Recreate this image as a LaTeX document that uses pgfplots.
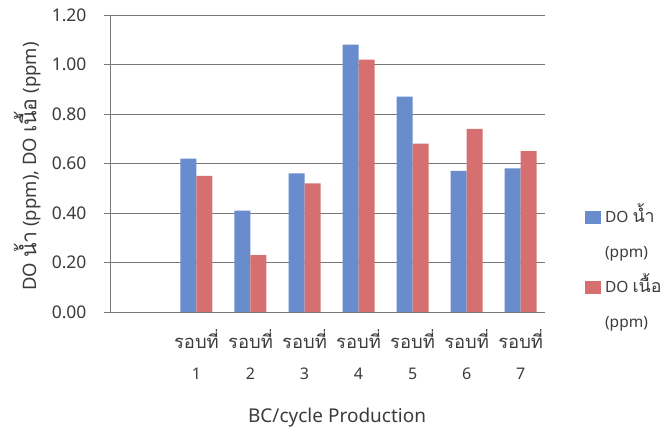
\documentclass[border=0pt]{standalone}
\usepackage{fontspec}
\usepackage{pgfplots}
\pgfplotsset{compat=1.18}
\setmainfont{Noto Sans}
\newfontfamily\thai[Script=Thai,Scale=1.15]{Loma}

\definecolor{waterblue}{RGB}{104,140,204}
\definecolor{fleshred}{RGB}{214,112,112}
\definecolor{gridgray}{RGB}{120,120,120}
\definecolor{textgray}{RGB}{60,60,60}

\begin{document}
\begin{tikzpicture}
\useasboundingbox (-110bp,-123bp) rectangle (554bp,312bp);
\begin{axis}[
  scale only axis,
  width=435bp, height=297bp,
  bar width=16bp,
  xmin=-0.6, xmax=7.45,
  ymin=0, ymax=1.2,
  ytick={0,0.2,0.4,0.6,0.8,1.0,1.2},
  /pgf/number format/fixed,
  /pgf/number format/fixed zerofill,
  /pgf/number format/precision=2,
  /pgf/number format/assume math mode=true,
  yticklabel style={font=\fontsize{17.5bp}{20bp}\selectfont, text=textgray, xshift=-14bp},
  xtick={1,2,3,4,5,6,7},
  xticklabels={{\thai รอบที่}\\[12bp]1,{\thai รอบที่}\\[12bp]2,{\thai รอบที่}\\[12bp]3,{\thai รอบที่}\\[12bp]4,{\thai รอบที่}\\[12bp]5,{\thai รอบที่}\\[12bp]6,{\thai รอบที่}\\[12bp]7},
  xticklabel style={align=center, font=\fontsize{16bp}{19bp}\selectfont, text=textgray, yshift=-8bp},
  major x tick style={draw=none},
  tick align=outside,
  major tick length=6bp,
  ytick style={gridgray, line width=0.8pt},
  ymajorgrids,
  grid style={gridgray, line width=0.8pt},
  axis x line*=bottom,
  axis y line*=left,
  axis line style={gridgray, line width=0.8pt},
  x axis line style={-},
  y axis line style={-},
  ylabel={DO {\thai น้ำ} (ppm), DO {\thai เนื้อ} (ppm)},
  ylabel style={at={(axis description cs:-0.19,0.49)}, anchor=center, font=\fontsize{18.5bp}{21bp}\selectfont, text=textgray},
  xlabel={BC/cycle Production},
  xlabel style={at={(axis description cs:0.522,-0.357)}, anchor=center, font=\fontsize{19bp}{22bp}\selectfont, text=textgray},
  legend style={at={(axis description cs:1.085,0.36)}, anchor=north west, draw=none, fill=none,
    font=\fontsize{15.5bp}{19bp}\selectfont, text=textgray, row sep=14bp, column sep=3bp,
    nodes={inner sep=1.5pt, text height=14bp, text depth=4bp}},
  legend cell align=left,
]
\addplot[ybar, bar shift=-8bp, fill=waterblue, draw=none, forget plot] coordinates {
  (1,0.62) (2,0.41) (3,0.56) (4,1.08) (5,0.87) (6,0.57) (7,0.58)};
\addplot[ybar, bar shift=8bp, fill=fleshred, draw=none, forget plot] coordinates {
  (1,0.55) (2,0.23) (3,0.52) (4,1.02) (5,0.68) (6,0.74) (7,0.65)};

\addlegendimage{legend image code/.code={\fill[waterblue] (0bp,-5bp) rectangle (15bp,7bp);}}
\addlegendentry{DO {\thai น้ำ}}
\addlegendimage{empty legend}
\addlegendentry{(ppm)}
\addlegendimage{legend image code/.code={\fill[fleshred] (0bp,-5bp) rectangle (15bp,7bp);}}
\addlegendentry{DO {\thai เนื้อ}}
\addlegendimage{empty legend}
\addlegendentry{(ppm)}
\end{axis}
\end{tikzpicture}
\end{document}
